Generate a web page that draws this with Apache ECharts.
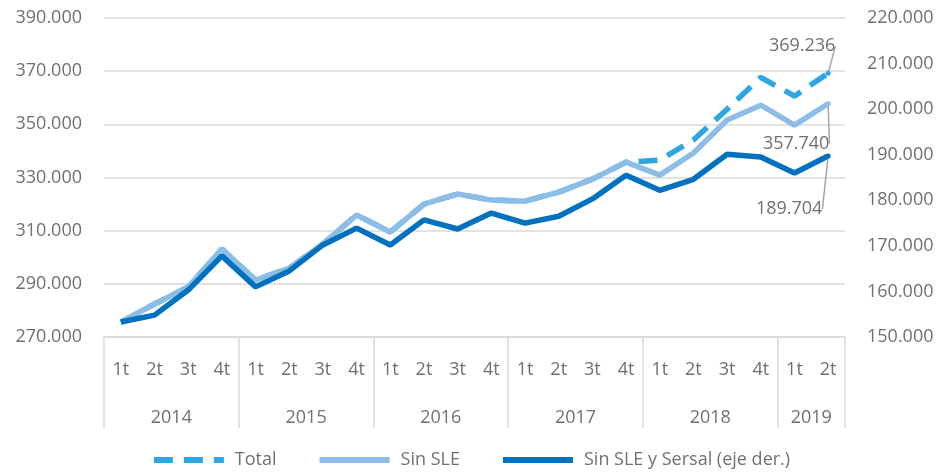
<!DOCTYPE html>
<html>
<head>
<meta charset="utf-8">
<script src="https://cdn.jsdelivr.net/npm/echarts@6/dist/echarts.min.js"></script>
<style>
    html, body { margin: 0; padding: 0; background: #fff; }
    #chart { width: 941px; height: 476px; }
</style>
</head>
<body>
<div id="chart"></div>
<script>
    // datos trimestrales
    var quarters = ['1t', '2t', '3t', '4t', '1t', '2t', '3t', '4t', '1t', '2t', '3t', '4t',
        '1t', '2t', '3t', '4t', '1t', '2t', '3t', '4t', '1t', '2t'];
    var years = ['2014', '2015', '2016', '2017', '2018', '2019'];
    var yearQuarters = [4, 4, 4, 4, 4, 2];

    var total = [275600, 282400, 288800, 303100, 291400, 295900, 305000, 315900, 309500, 320000, 323800,
        321500, 321100, 324500, 329400, 335800, 336500, 344100, 355700, 367700, 360600, 369236];
    var sinSLE = [275600, 282400, 288800, 303100, 291400, 295900, 305000, 315900, 309500, 320000, 323800,
        321500, 321100, 324500, 329400, 335800, 330900, 339200, 351600, 357200, 349700, 357740];
    var sinSLEySersal = [153300, 154800, 160300, 167800, 161000, 164500, 170200, 173900, 170200, 175700, 173700,
        177200, 175000, 176500, 180300, 185500, 182200, 184600, 190100, 189500, 186000, 189704];

    var leftTicks = { min: 270000, max: 390000, interval: 20000 };
    var rightTicks = { min: 150000, max: 220000, interval: 10000 };

    var txt = '#707070';
    var font = 'Open Sans';

    function fmt(v) {
        return (v / 1000).toFixed(3);
    }

    // punto final con etiqueta
    function withEndLabel(values, color) {
        return values.map(function (v, i) {
            if (i === values.length - 1) {
                return { value: v, symbol: 'circle', symbolSize: 5, itemStyle: { color: color },
                    label: { show: true } };
            }
            return v;
        });
    }

    // posiciones de los años (centro de cada grupo)
    var yearPos = {};
    var acc = 0;
    yearQuarters.forEach(function (n, i) {
        yearPos[acc + n / 2] = years[i];
        acc += n;
    });
    var boundaries = {};
    acc = 0;
    yearQuarters.forEach(function (n) {
        boundaries[acc] = true;
        acc += n;
    });

    var chart = echarts.init(document.getElementById('chart'));

    var labelBase = {
        show: false,
        position: 'inside',
        color: txt,
        fontFamily: font,
        fontSize: 18,
        formatter: function (p) { return fmt(p.value); }
    };
    var guide = { show: true, lineStyle: { color: '#a6a6a6', width: 1.5 } };

    chart.setOption({
        animation: false,
        grid: { left: 104, right: 96, top: 18, bottom: 139 },
        legend: {
            left: 'center',
            top: 446,
            itemWidth: 70,
            itemHeight: 14,
            itemGap: 40,
            itemStyle: { opacity: 0 },
            lineStyle: { width: 6 },
            textStyle: { color: txt, fontFamily: font, fontSize: 18, padding: [0, 0, 0, 6] },
            data: ['Total', 'Sin SLE', 'Sin SLE y Sersal (eje der.)']
        },
        xAxis: [
            {
                type: 'category',
                data: quarters,
                boundaryGap: true,
                axisLine: { lineStyle: { color: '#d9d9d9', width: 1.5 } },
                axisTick: {
                    show: true,
                    length: 91,
                    lineStyle: { color: '#d9d9d9', width: 1.5 },
                    interval: function (i) { return !!boundaries[i]; }
                },
                axisLabel: { color: txt, fontFamily: font, fontSize: 18, margin: 24, interval: 0 }
            },
            {
                type: 'value',
                position: 'bottom',
                offset: 65,
                min: 0,
                max: quarters.length,
                interval: 1,
                axisLine: { show: false },
                axisTick: { show: false },
                splitLine: { show: false },
                axisLabel: {
                    color: txt, fontFamily: font, fontSize: 18, margin: 7,
                    formatter: function (v) { return yearPos[v] || ''; }
                }
            }
        ],
        yAxis: [
            {
                type: 'value',
                min: leftTicks.min,
                max: leftTicks.max,
                interval: leftTicks.interval,
                axisLine: { show: false },
                axisTick: { show: false },
                splitLine: { lineStyle: { color: '#d9d9d9', width: 1.5 } },
                axisLabel: { color: txt, fontFamily: font, fontSize: 18, margin: 22, formatter: fmt }
            },
            {
                type: 'value',
                min: rightTicks.min,
                max: rightTicks.max,
                interval: rightTicks.interval,
                axisLine: { show: false },
                axisTick: { show: false },
                splitLine: { show: false },
                axisLabel: { color: txt, fontFamily: font, fontSize: 18, margin: 22, formatter: fmt }
            }
        ],
        series: [
            {
                name: 'Total',
                type: 'line',
                yAxisIndex: 0,
                symbol: 'none',
                showSymbol: true,
                data: withEndLabel(total, '#2ea7e0'),
                itemStyle: { color: '#2ea7e0' },
                lineStyle: { color: '#2ea7e0', width: 5.5, type: [19, 11] },
                label: labelBase,
                labelLine: guide,
                labelLayout: { dx: -26, dy: -27 }
            },
            {
                name: 'Sin SLE',
                type: 'line',
                yAxisIndex: 0,
                symbol: 'none',
                showSymbol: true,
                data: withEndLabel(sinSLE, '#8cbde6'),
                itemStyle: { color: '#8cbde6' },
                lineStyle: { color: '#8cbde6', width: 5.5 },
                label: labelBase,
                labelLine: guide,
                labelLayout: { dx: -32, dy: 40 }
            },
            {
                name: 'Sin SLE y Sersal (eje der.)',
                type: 'line',
                yAxisIndex: 1,
                symbol: 'none',
                showSymbol: true,
                data: withEndLabel(sinSLEySersal, '#0071bf'),
                itemStyle: { color: '#0071bf' },
                lineStyle: { color: '#0071bf', width: 5.5 },
                label: labelBase,
                labelLine: guide,
                labelLayout: { dx: -39, dy: 53 }
            }
        ]
    });
</script>
</body>
</html>
